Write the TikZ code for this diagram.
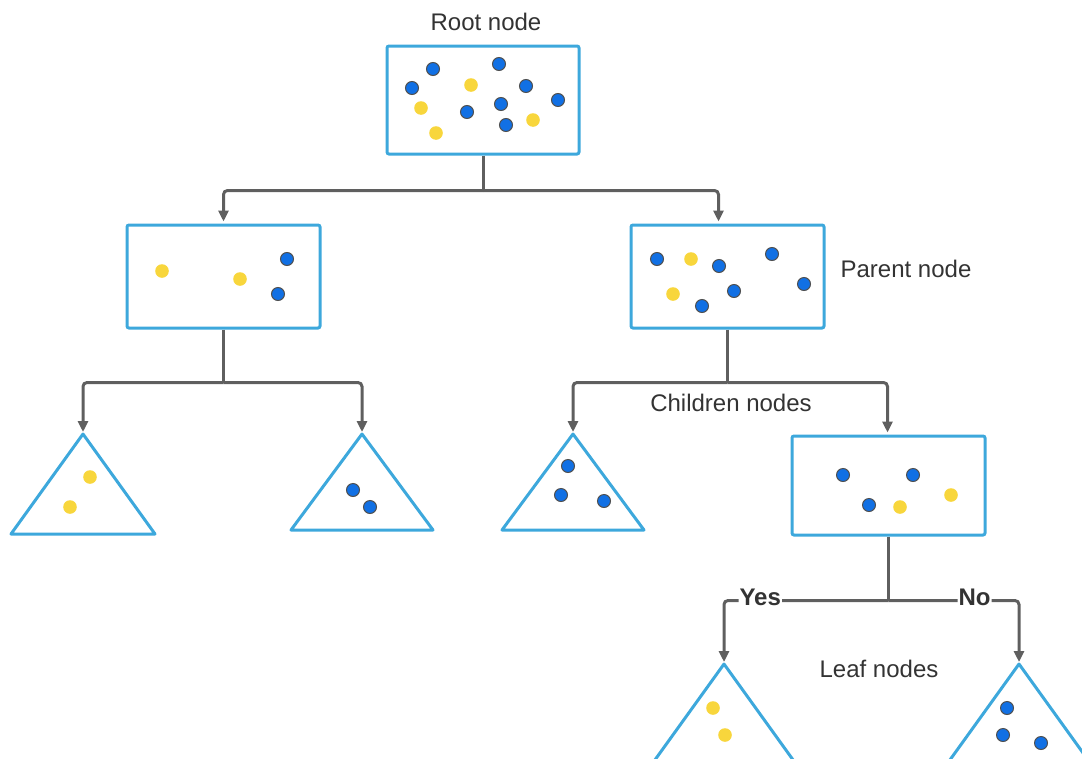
\documentclass[tikz,border=0pt]{standalone}
\usepackage{fontspec}
\setmainfont{Liberation Sans}
\usetikzlibrary{arrows.meta}

\definecolor{boxblue}{HTML}{3DA8DC}
\definecolor{dotblue}{HTML}{1170E4}
\definecolor{dotedge}{HTML}{505050}
\definecolor{dotyellow}{HTML}{F8D63C}
\definecolor{linegrey}{HTML}{5F5F5F}
\definecolor{textgrey}{HTML}{333333}

\tikzset{
	treebox/.style={draw=boxblue, line width=3pt, rounded corners=2pt,
		minimum width=193pt, minimum height=103pt, inner sep=0pt},
	leafshape/.style={draw=boxblue, line width=3pt, line join=round},
	conn/.style={draw=linegrey, line width=3pt, rounded corners=4pt},
	arr/.style={conn, -{Triangle[length=11pt,width=10pt]}, shorten >=2pt},
	caption/.style={text=textgrey, font=\fontsize{24}{28}\selectfont},
	answer/.style={text=textgrey, fill=white, inner sep=1pt, yshift=3pt,
		font=\fontsize{24}{28}\selectfont\bfseries},
	bluedot/.style={fill=dotblue, draw=dotedge, line width=1pt},
	yellowdot/.style={fill=dotyellow},
}

\begin{document}
\begin{tikzpicture}[x=1pt, y=-1pt]
\useasboundingbox (0,0) rectangle (1082,758);
\clip (0,0) rectangle (1082,758);

% boxes
\node[treebox, minimum width=192pt, minimum height=108pt] (root) at (483,100) {};
\node[treebox] (kidL) at (223.5,276.5) {};
\node[treebox] (parent) at (727.5,276.5) {};
\node[treebox, minimum height=99pt] (split) at (888.5,485.5) {};

% leaves
\coordinate (t1) at (83,434);
\coordinate (t2) at (362,434);
\coordinate (t3) at (573,434);
\coordinate (tyes) at (724,664);
\coordinate (tno) at (1019,664);
\draw[leafshape] (t1) -- ++(-72,100) -- ++(144,0) -- cycle;
\draw[leafshape] (t2) -- ++(-71,96) -- ++(142,0) -- cycle;
\draw[leafshape] (t3) -- ++(-71,96) -- ++(142,0) -- cycle;
\draw[leafshape] (tyes) -- ++(-72,100) -- ++(144,0) -- cycle;
\draw[leafshape] (tno) -- ++(-72,100) -- ++(144,0) -- cycle;

% captions
\node[caption] (rootcap) at (486,22) {Root node};
\node[caption] (parentcap) at (906,269) {Parent node};
\node[caption] (kidcap) at (731,403) {Children nodes};
\node[caption] (leafcap) at (879,669) {Leaf nodes};

% connectors
\draw[conn] (root.south) -- ++(0,35) coordinate (rootfork);
\draw[arr] (rootfork) -| (kidL.north);
\draw[arr] (rootfork) -| ([xshift=-9pt]parent.north);

\draw[conn] (kidL.south) -- ++(0,53) coordinate (kidLfork);
\draw[arr] (kidLfork) -| (t1);
\draw[arr] (kidLfork) -| (t2);

\draw[conn] (parent.south) -- ++(0,53) coordinate (parentfork);
\draw[arr] (parentfork) -| (t3);
\draw[arr] (parentfork) -| ([xshift=-1pt]split.north);

\draw[conn] (split.south) -- ++(0,64) coordinate (splitfork);
\draw[arr] (splitfork) -| node[answer, pos=0.39] {Yes} (tyes);
\draw[arr] (splitfork) -| node[answer, pos=0.33] {No} (tno);

% samples
\foreach \x/\y in {433/69, 412/88, 499/64, 526/86, 558/100, 467/112, 501/104, 506/125,
	287/259, 278/294,
	657/259, 719/266, 772/254, 734/291, 702/306, 804/284,
	353/490, 370/507,
	568/466, 561/495, 604/501,
	843/475, 913/475, 869/505,
	1007/708, 1003/735, 1041/743}
	\filldraw[bluedot] (\x,\y) circle (6.5);
\foreach \x/\y in {471/85, 421/108, 436/133, 533/120,
	162/271, 240/279,
	691/259, 673/294,
	90/477, 70/507,
	900/507, 951/495,
	713/708, 725/735}
	\fill[yellowdot] (\x,\y) circle (6.8);
\end{tikzpicture}
\end{document}
